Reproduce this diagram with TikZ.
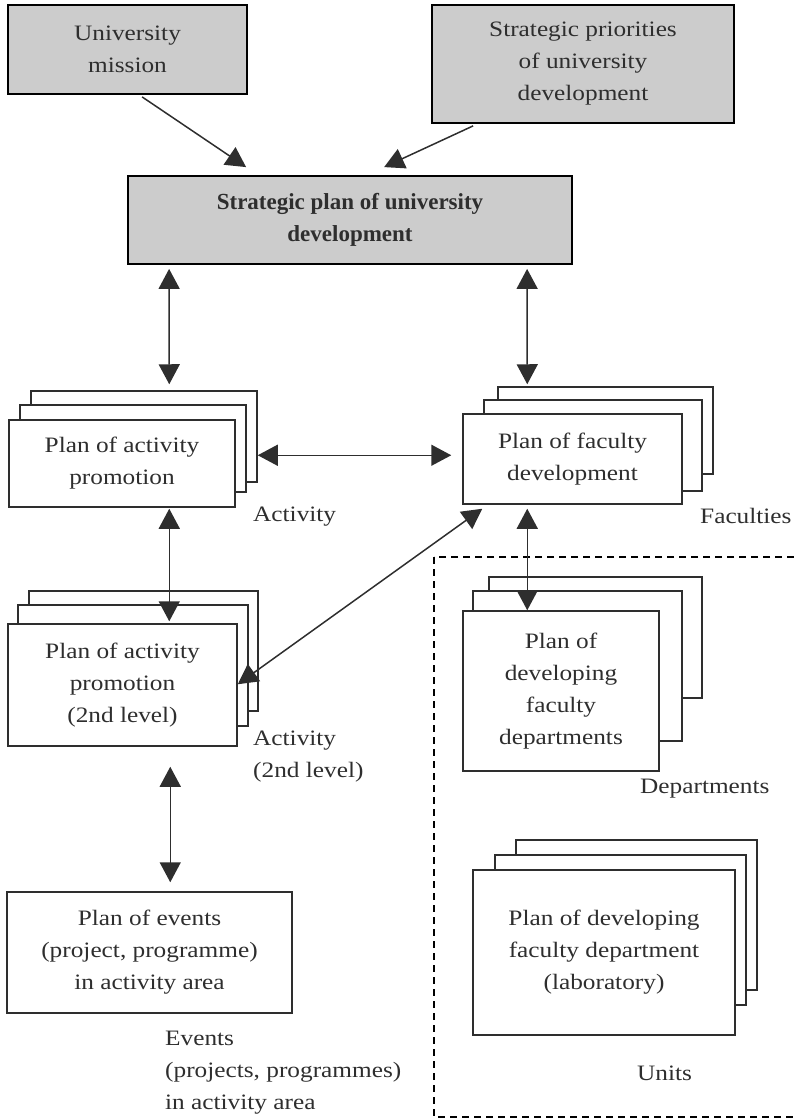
\documentclass[tikz,border=0pt]{standalone}
\usepackage{fontspec}
\setmainfont{Liberation Serif}[FakeStretch=1.15]
\newfontfamily\boldcond{Liberation Serif}
\usetikzlibrary{arrows.meta,calc}
\definecolor{ink}{HTML}{2E2E2E}
\definecolor{boxgray}{HTML}{CCCCCC}
\newcommand\boxat[7]{\node[#6, minimum width={(#4)-(#2)}, minimum height={(#5)-(#3)}] (#1) at ({((#2)+(#4))/2},{((#3)+(#5))/2}) {#7};}
\tikzset{
  txt/.style={font=\fontsize{22}{32}\selectfont, text=ink},
  gbox/.style={txt, draw=black, line width=1.8pt, fill=boxgray, align=center, inner sep=0pt},
  wbox/.style={txt, draw=ink, line width=1.5pt, fill=white, align=center, inner sep=0pt},
  lbl/.style={txt, inner sep=0pt, align=left},
  tip/.tip={Triangle[length=20pt,width=21pt]},
  arr/.style={draw=ink, line width=1.5pt, -tip},
  dbl/.style={draw=ink, line width=1.5pt, tip-tip},
}
\begin{document}
\begin{tikzpicture}[x=1pt,y=-1pt]
\useasboundingbox (0,0) rectangle (794,1118);
% dashed area
\draw[black, line width=1.5pt, dash pattern=on 7pt off 5pt] (434,557) rectangle (810,1117);
% top boxes
\boxat{mission}{8}{5}{247}{94}{gbox}{University\\mission}
\boxat{prio}{432}{5}{734}{123}{gbox}{Strategic priorities\\of university\\development}
\boxat{plan}{128}{176}{572}{264}{gbox,font=\fontsize{23}{32}\selectfont\boldcond\bfseries}{Strategic plan of university\\development}
% activity
\boxat{actc}{31}{391}{257}{482}{wbox}{}
\boxat{actb}{20}{405}{246}{492}{wbox}{}
\boxat{act}{9}{420}{235}{507}{wbox}{Plan of activity\\promotion}
% faculty
\boxat{facc}{498}{387}{713}{474}{wbox}{}
\boxat{facb}{484}{400}{702}{491}{wbox}{}
\boxat{fac}{463}{414}{682}{504}{wbox}{Plan of faculty\\development}
% activity 2nd level
\boxat{acttc}{29}{591}{258}{711}{wbox}{}
\boxat{acttb}{18}{605}{248}{726}{wbox}{}
\boxat{actt}{8}{624}{237}{746}{wbox}{Plan of activity\\promotion\\(2nd level)}
% departments
\boxat{depc}{489}{577}{702}{698}{wbox}{}
\boxat{depb}{473}{591}{682}{741}{wbox}{}
\boxat{dep}{463}{611}{659}{771}{wbox}{Plan of\\developing\\faculty\\departments}
% units
\boxat{unitc}{516}{840}{757}{990}{wbox}{}
\boxat{unitb}{495}{855}{746}{1005}{wbox}{}
\boxat{unit}{473}{870}{735}{1035}{wbox}{Plan of developing\\faculty department\\(laboratory)}
% events
\boxat{ev}{7}{892}{292}{1013}{wbox}{Plan of events\\(project, programme)\\in activity area}
% labels
\node[lbl, anchor=west] (lact) at (253,517) {Activity};
\node[lbl, anchor=west] (lfac) at (700,516) {Faculties};
\node[lbl, anchor=west] (lactt) at (253,757) {Activity\\(2nd level)};
\node[lbl, anchor=west] (ldep) at (640,789) {Departments};
\node[lbl, anchor=west] (lev) at (165,1073) {Events\\(projects, programmes)\\in activity area};
\node[lbl, anchor=west] (lunit) at (637,1073) {Units};
% connectors
\draw[arr] ($(mission.south west)+(135,2)$) -- ($(plan.north west)+(119,-8)$);
\draw[arr] ($(prio.south west)+(42,2)$) -- ($(plan.north west)+(257,-8)$);
\draw[dbl] ($(plan.south west)+(42,4)$) -- ($(actc.north west)+(139,-6)$);
\draw[dbl] ($(plan.south west)+(400,4)$) -- ($(facc.north west)+(30,-2)$);
\draw[dbl] ($(actc.north east)+(0,65)$) -- ($(fac.north west)+(-11,42)$);
\draw[dbl] ($(act.south west)+(161,1)$) -- ($(actt.north west)+(162,-2)$);
\draw[dbl] ($(fac.south west)+(20,4)$) -- ($(actt.north east)+(0,61)$);
\draw[dbl] ($(fac.south west)+(65,4)$) -- ($(dep.north west)+(65,0)$);
\draw[dbl] ($(actt.south west)+(163,20)$) -- ($(ev.north west)+(164,-9)$);
\end{tikzpicture}
\end{document}
